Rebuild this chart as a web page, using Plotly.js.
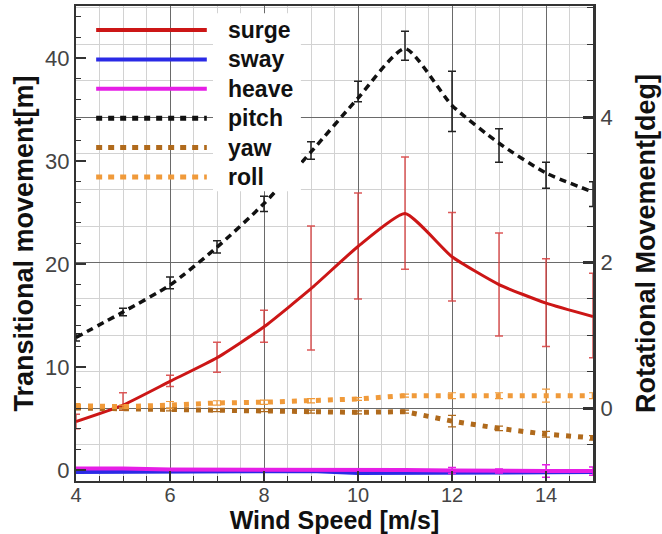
<!DOCTYPE html>
<html>
<head>
<meta charset="utf-8">
<script src="https://cdn.plot.ly/plotly-3.0.1.min.js"></script>
<style>
html,body{margin:0;padding:0;background:#fff;}
#chart{width:662px;height:534px;}
</style>
</head>
<body>
<div id="chart"></div>
<script>
// ---- data ----
const windSpeed = [4, 5, 6, 7, 8, 9, 10, 11, 12, 13, 14, 15];

const surge          = [4.7, 6.3, 8.6, 10.9, 13.9, 17.6, 21.7, 24.9, 20.7, 18.0, 16.2, 14.9];
const surgeErrPlus   = [0.7, 1.2, 0.6, 1.5, 1.6, 6.1, 5.2, 5.5, 4.3, 5.0, 4.3, 4.2];
const surgeErrMinus  = [0.7, 0.5, 0.5, 1.4, 1.5, 5.95, 5.1, 5.4, 4.3, 5.0, 4.2, 4.0];

const sway  = [-0.15, -0.15, -0.15, -0.05, -0.05, -0.05, -0.25, -0.25, -0.2, -0.15, -0.15, -0.15];
const heave = [0.15, 0.15, 0.05, 0.05, 0.0, 0.0, 0.0, 0.0, -0.05, -0.1, -0.1, -0.1];
const heaveErr = [0, 0, 0, 0, 0, 0, 0, 0, 0.3, 0.2, 0.6, 0.4];

const pitch          = [0.97, 1.32, 1.69, 2.21, 2.81, 3.52, 4.26, 4.94, 4.16, 3.64, 3.23, 2.97];
const pitchErrPlus   = [0.05, 0.05, 0.11, 0.09, 0.10, 0.14, 0.23, 0.24, 0.47, 0.20, 0.15, 0.14];
const pitchErrMinus  = [0.05, 0.05, 0.05, 0.08, 0.11, 0.10, 0.05, 0.16, 0.36, 0.26, 0.21, 0.20];

const yaw    = [0.0, -0.01, -0.02, -0.03, -0.03, -0.05, -0.06, -0.05, -0.18, -0.28, -0.36, -0.41];
const yawErr = [0.02, 0.02, 0.02, 0.02, 0.02, 0.02, 0.02, 0.02, 0.08, 0.03, 0.04, 0.03];

const roll    = [0.03, 0.02, 0.04, 0.07, 0.08, 0.10, 0.125, 0.17, 0.17, 0.17, 0.17, 0.17];
const rollErr = [0.03, 0.02, 0.05, 0.03, 0.03, 0.03, 0.02, 0.02, 0.04, 0.04, 0.09, 0.04];

const seriesNames = ['surge', 'sway', 'heave', 'pitch', 'yaw', 'roll'];
const xTitle = 'Wind Speed [m/s]';
const yTitle = 'Transitional movement[m]';
const y2Title = 'Rotational Movement[deg]';

// ---- styles ----
const FONT = 'Liberation Sans, Arial, Helvetica, sans-serif';
const colors = {
  surge: '#cc1616', sway: '#2a2ae6', heave: '#e61ee6',
  pitch: '#111111', yaw: '#b06a1c', roll: '#f09a3a'
};
const lineStyles = {
  surge: {color: colors.surge, width: 3},
  sway:  {color: colors.sway, width: 5},
  heave: {color: colors.heave, width: 4},
  pitch: {color: colors.pitch, width: 3.5, dash: '7px,5px', shape: 'spline', smoothing: 0.6},
  yaw:   {color: colors.yaw, width: 5, dash: '5px,7px'},
  roll:  {color: colors.roll, width: 5, dash: '5px,7px'}
};

const traces = [
  {name: 'sway', x: windSpeed, y: sway, yaxis: 'y', mode: 'lines', line: lineStyles.sway},
  {name: 'heave', x: windSpeed, y: heave, yaxis: 'y', mode: 'lines', line: lineStyles.heave,
   error_y: {type: 'data', array: heaveErr, color: colors.heave, thickness: 1.5, width: 4}},
  {name: 'surge', x: windSpeed, y: surge, yaxis: 'y', mode: 'lines',
   line: Object.assign({shape: 'spline', smoothing: 0.5}, lineStyles.surge),
   error_y: {type: 'data', symmetric: false, array: surgeErrPlus, arrayminus: surgeErrMinus,
             color: 'rgba(215,60,60,0.85)', thickness: 1.5, width: 4}},
  {name: 'yaw', x: windSpeed, y: yaw, yaxis: 'y2', mode: 'lines', line: lineStyles.yaw,
   error_y: {type: 'data', array: yawErr, color: colors.yaw, thickness: 1.2, width: 4}},
  {name: 'roll', x: windSpeed, y: roll, yaxis: 'y2', mode: 'lines', line: lineStyles.roll,
   error_y: {type: 'data', array: rollErr, color: colors.roll, thickness: 1.2, width: 4}},
  {name: 'pitch', x: windSpeed, y: pitch, yaxis: 'y2', mode: 'lines', line: lineStyles.pitch,
   error_y: {type: 'data', symmetric: false, array: pitchErrPlus, arrayminus: pitchErrMinus,
             color: '#222', thickness: 1.5, width: 4}}
];

// ---- legend (drawn as paper-space decoration) ----
const legendLine = {
  surge: {color: colors.surge, width: 4},
  sway:  {color: colors.sway, width: 4},
  heave: {color: colors.heave, width: 4},
  pitch: {color: colors.pitch, width: 5, dash: '6px,6px'},
  yaw:   {color: colors.yaw, width: 5, dash: '6px,6px'},
  roll:  {color: colors.roll, width: 5, dash: '6px,6px'}
};
const legX0 = 0.039, legX1 = 0.253, legTextX = 0.29, legTop = 0.9495, legStep = 0.0619;
const shapes = [{
  type: 'rect', xref: 'paper', yref: 'paper', x0: 0.265, x1: 0.435, y0: 0.61, y1: 0.985,
  fillcolor: '#ffffff', line: {width: 0}, layer: 'above'
}];
const annotations = [];
seriesNames.forEach(function (n, i) {
  const yy = legTop - i * legStep;
  shapes.push({type: 'line', xref: 'paper', yref: 'paper', x0: legX0, x1: legX1, y0: yy, y1: yy,
               line: legendLine[n], layer: 'above'});
  annotations.push({xref: 'paper', yref: 'paper', x: legTextX, y: yy, xanchor: 'left', yanchor: 'middle',
                    text: n, showarrow: false,
                    font: {family: FONT, size: 23, color: '#111', weight: 'bold'}});
});

const tickFont = {family: FONT, size: 22, color: '#444'};
const titleFont = {family: FONT, size: 27, color: '#111', weight: 'bold'};

const layout = {
  width: 662, height: 534,
  margin: {l: 76, r: 69, t: 6, b: 53, pad: 0},
  paper_bgcolor: '#fff', plot_bgcolor: '#fff',
  showlegend: false,
  font: {family: FONT},
  xaxis: {
    range: [4, 15], tick0: 4, dtick: 2, ticks: 'inside', ticklen: 10, tickwidth: 2, tickcolor: '#333',
    showgrid: true, gridcolor: '#6a6a6a', gridwidth: 1,
    minor: {dtick: 0.5, ticks: 'inside', ticklen: 5, tickwidth: 1, tickcolor: '#333',
            showgrid: true, gridcolor: '#d2d2d2', gridwidth: 1},
    showline: true, linecolor: '#333', linewidth: 2, mirror: true, zeroline: false,
    tickfont: {family: FONT, size: 20, color: '#444'}, ticklabelstandoff: -5, automargin: false,
    title: {text: xTitle, font: {family: FONT, size: 25, color: '#111', weight: 'bold'}, standoff: 9}
  },
  yaxis: {
    range: [-1.07, 45.05], tick0: 0, dtick: 10, ticks: 'inside', ticklen: 10, tickwidth: 2, tickcolor: '#333',
    minor: {dtick: 2, ticks: 'inside', ticklen: 5, tickwidth: 1, tickcolor: '#333', showgrid: false},
    showgrid: false, zeroline: false, showline: true, linecolor: '#333', linewidth: 2,
    tickfont: tickFont, automargin: false,
    title: {text: yTitle, font: titleFont, standoff: 4}
  },
  yaxis2: {
    overlaying: 'y', side: 'right',
    range: [-1.003, 5.526], tick0: 0, dtick: 2, ticks: 'inside', ticklen: 10, tickwidth: 3, tickcolor: '#333',
    showgrid: true, gridcolor: '#6a6a6a', gridwidth: 1,
    minor: {dtick: 0.5, ticks: 'inside', ticklen: 6, tickwidth: 1, tickcolor: '#333',
            showgrid: true, gridcolor: '#d2d2d2', gridwidth: 1},
    zeroline: false, showline: true, linecolor: '#333', linewidth: 3,
    tickfont: tickFont, automargin: false,
    title: {text: y2Title, font: titleFont, standoff: 25}
  },
  shapes: shapes,
  annotations: annotations
};

Plotly.newPlot('chart', traces, layout, {displayModeBar: false, staticPlot: true});
</script>
</body>
</html>
